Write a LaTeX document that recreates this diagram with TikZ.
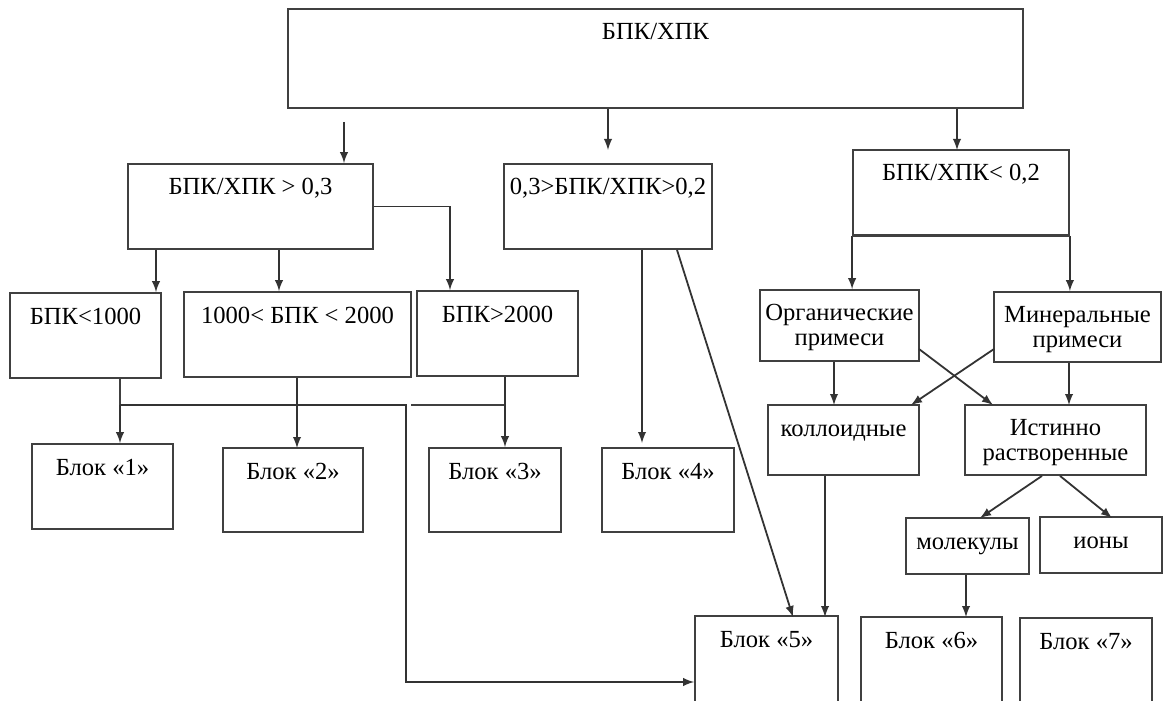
\documentclass[tikz,border=0pt]{standalone}
\usepackage{fontspec}
\setmainfont{Liberation Serif}
\usepackage{tikz}

\begin{document}
\begin{tikzpicture}[x=0.5pt,y=-0.5pt,line width=0.9pt,draw=black!75,
		box/.style 2 args={draw=black!75,rectangle,inner sep=0pt,minimum width=#1*0.5pt,minimum height=#2*0.5pt},
		txt/.style={below=8.5pt,inner sep=0pt,text height=0.7em,text depth=0.2em,font=\fontsize{12.3}{12.8}\selectfont},
		txt2/.style={below=7pt,inner sep=0pt,align=center,font=\fontsize{12.3}{12.8}\selectfont},
		arr/.style={draw=black!80,-latex}]
		\clip (0,0) rectangle (1163,701);
		
		% boxes
		\node[box={735}{99},label={[txt]north:БПК/ХПК}] (top) at (655.5,58.5) {};
		\node[box={245}{85},label={[txt]north:БПК/ХПК > 0,3}] (A) at (250.5,206.5) {};
		\node[box={208}{85},label={[txt]north:0,3>БПК/ХПК>0,2}] (B) at (608,206.5) {};
		\node[box={216}{85},label={[txt]north:БПК/ХПК< 0,2}] (C) at (961,192.5) {};
		
		\node[box={151}{85},label={[txt]north:БПК<1000}] (b1000) at (85.5,335.5) {};
		\node[box={227}{85},label={[txt]north:1000< БПК < 2000}] (b2) at (297.5,334.5) {};
		\node[box={161}{85},label={[txt]north:БПК>2000}] (b2000) at (497.5,333.5) {};
		
		\node[box={141}{85},label={[txt]north:Блок «1»}] (bl1) at (102.5,486.5) {};
		\node[box={140}{84},label={[txt]north:Блок «2»}] (bl2) at (293,490) {};
		\node[box={132}{84},label={[txt]north:Блок «3»}] (bl3) at (495,490) {};
		\node[box={132}{84},label={[txt]north:Блок «4»}] (bl4) at (668,490) {};
		
		\node[box={159}{71},label={[txt2]north:Органические\\примеси}] (org) at (839.5,325.5) {};
		\node[box={167}{70},label={[txt2]north:Минеральные\\примеси}] (min) at (1077.5,327) {};
		\node[box={151}{70},label={[txt]north:коллоидные}] (koll) at (843.5,440) {};
		\node[box={181}{70},label={[txt2]north:Истинно\\растворенные}] (ist) at (1055.5,440) {};
		\node[box={123}{56},label={[txt]north:молекулы}] (mol) at (967.5,546) {};
		\node[box={122}{56},label={[txt]north:ионы}] (ion) at (1101,545) {};
		
		\node[box={143}{96},label={[txt]north:Блок «5»}] (bl5) at (766.5,664) {};
		\node[box={141}{95},label={[txt]north:Блок «6»}] (bl6) at (931.5,664.5) {};
		\node[box={132}{94},label={[txt]north:Блок «7»}] (bl7) at (1086,665) {};
		
		% from the top box
		\coordinate (t1) at (344,122);
		\coordinate (t2) at (608,150);
		\draw[arr] (t1) -- (t1 |- A.north);
		\draw[arr] (top.south -| t2) -- (t2);
		\draw[arr] (top.south -| 957,0) -- (957,150);
		
		% first branch
		\coordinate (c1) at (156,0);
		\coordinate (c2) at (279,0);
		\coordinate (c3) at (450,0);
		\draw[arr] (A.south -| c1) -- (c1 |- b1000.north);
		\draw[arr] (A.south -| c2) -- (c2 |- b2.north);
		\draw[arr] (A.east) -| (c3 |- b2000.north);
		
		\coordinate (j1) at (120,405);
		\coordinate (k1) at (406,405);
		\coordinate (k2) at (411,405);
		\coordinate (j3) at (505,405);
		\coordinate (e5) at ([yshift=-9pt]bl5.west);
		\draw (b1000.south -| j1) -- (j1);
		\draw[arr] (j1) -- (j1 |- bl1.north);
		\draw[arr] (j1) -- (k1) -- (k1 |- e5) -- (e5);
		\draw[arr] (b2.south -| 297,0) -- (297,448);
		\draw (k2) -- (j3);
		\draw[arr] (b2000.south -| j3) -- (j3 |- bl3.north);
		
		% second branch
		\coordinate (d4) at (642,443);
		\draw[arr] (B.south -| d4) -- (d4);
		\draw[arr] (B.south -| 677,0) -- (793,617);
		
		% third branch
		\draw[arr] (C.south west) -- (C.south west |- org.north);
		\draw[arr] (C.south east) -- (C.south east |- min.north);
		\draw (C.south west) -- (C.south east);
		\draw[arr] (org.south -| 834,0) -- (834,405);
		\draw[arr] (919,349) -- (993,405);
		\draw[arr] (994,349) -- (911,405);
		\draw[arr] (min.south -| 1069,0) -- (1069,405);
		\draw[arr] (koll.south -| 825,0) -- (825,617);
		\draw[arr] (ist.south -| 1042,0) -- (980,518);
		\draw[arr] (ist.south -| 1060,0) -- (1112,518);
		\draw[arr] (mol.south -| 966,0) -- (966,617);
	\end{tikzpicture}
\end{document}
